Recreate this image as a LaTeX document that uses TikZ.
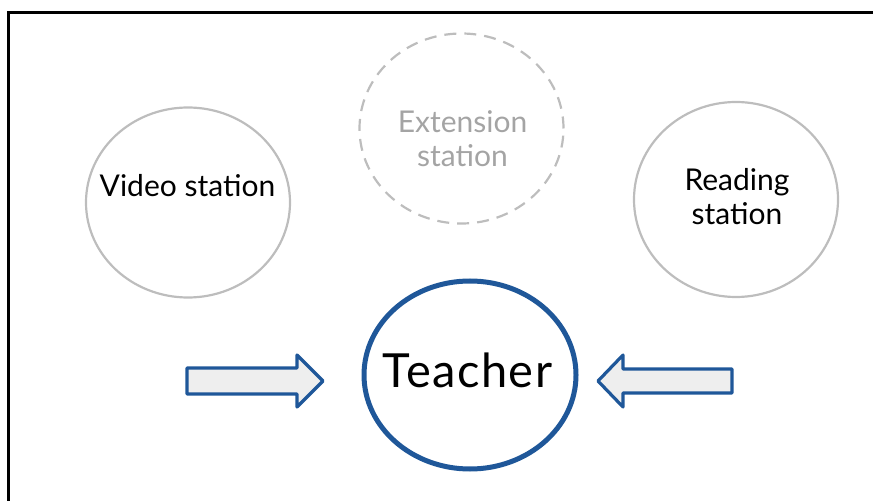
\documentclass[tikz,border=0pt]{standalone}
\usepackage{fontspec}
\setmainfont{Lato}
\usepackage{tikz}
\usetikzlibrary{positioning, calc, shapes.geometric}

\definecolor{ringgray}{HTML}{BDBDBD}
\definecolor{fadegray}{HTML}{A4A4A4}
\definecolor{teachblue}{HTML}{1F5799}
\definecolor{arrowfill}{HTML}{EEEEEE}

\begin{document}
\begin{tikzpicture}[
  x=1bp, y=-1bp,
  station/.style = {draw=ringgray, line width=2.2bp, ellipse, inner sep=0pt,
                    minimum width=204bp, minimum height=190bp},
  extra/.style   = {station, dash pattern=on 12bp off 8bp},
  label/.style   = {inner sep=0pt, align=center,
                    font=\fontsize{30bp}{34bp}\selectfont},
  teacher/.style = {draw=teachblue, line width=5bp, ellipse, inner sep=0pt,
                    minimum width=212bp, minimum height=188bp},
  bigarrow/.style = {draw=teachblue, line width=3.2bp, fill=arrowfill, line join=round}
]

  % page size and frame
  \useasboundingbox (0,0) rectangle (873,501);
  \draw[line width=2.4bp] (8.5,501) -- (8.5,12.5) -- (873,12.5);

  % stations
  \node[station] (video) at (188,202.5) {};
  \node[extra] (extension) at (461.5,128.5) {};
  \node[station, minimum height=195bp] (reading) at (736,199.5) {};

  % teacher in the middle
  \node[teacher] (teacher) at (470,375) {};

  % station texts (base = last line)
  \node[label, anchor=base] (videotxt) at (187.5,197) {Video station};
  \node[label, anchor=base, text=fadegray] (extensiontxt) at (462.5,167)
    {Extension\\station};
  \node[label, anchor=base] (readingtxt) at (737,225) {Reading\\station};
  \node[label, anchor=base,
        font=\fontsize{47bp}{50bp}\selectfont\addfontfeatures{LetterSpace=3}]
    (teachertxt) at (467.5,387) {Teacher};

  % arrows pointing at the teacher
  \coordinate (larrow) at (187,380.5);
  \coordinate (rarrow) at (732,381);
  \draw[bigarrow] (larrow) ++(0,-12.5) -- ++(110,0) -- ++(0,-13) -- ++(26,26)
    -- ++(-26,26) -- ++(0,-13) -- ++(-110,0) -- cycle;
  \draw[bigarrow] (rarrow) ++(0,-12) -- ++(-109,0) -- ++(0,-14) -- ++(-25,26)
    -- ++(25,26) -- ++(0,-14) -- ++(109,0) -- cycle;

\end{tikzpicture}
\end{document}
